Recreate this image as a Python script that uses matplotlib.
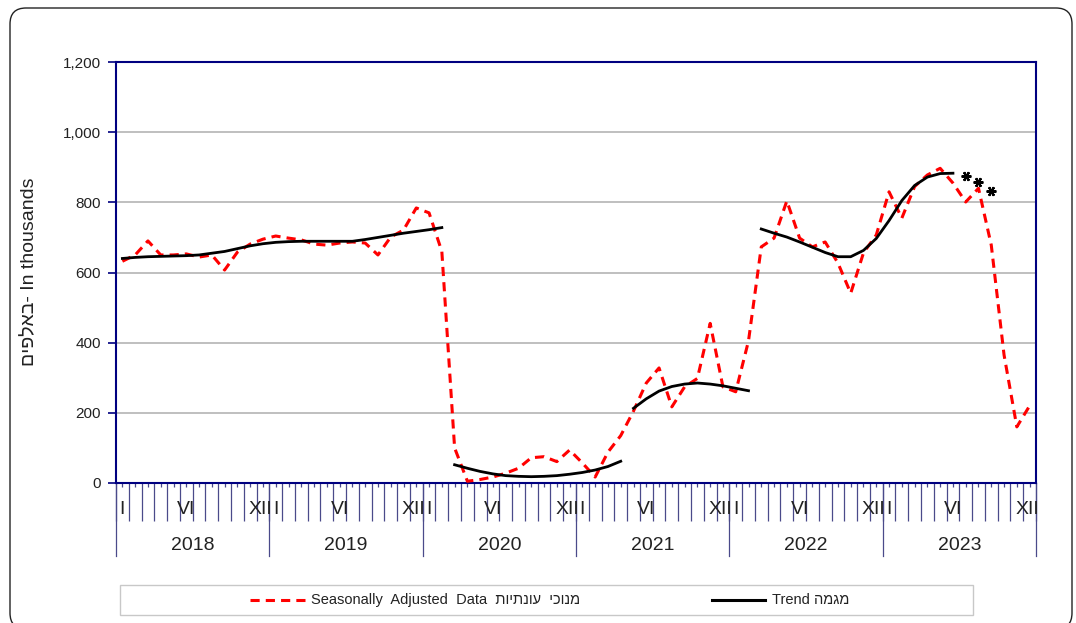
import numpy as np
import matplotlib
matplotlib.use('Agg')
import matplotlib.pyplot as plt
from matplotlib.ticker import FuncFormatter
from matplotlib.patches import FancyBboxPatch, Rectangle
from matplotlib.lines import Line2D
from matplotlib.transforms import IdentityTransform

plt.rcParams['font.family'] = ['Liberation Sans', 'DejaVu Sans']

years = ['2018', '2019', '2020', '2021', '2022', '2023']
month_labels = {0: 'I', 5: 'VI', 11: 'XII'}

# seasonally adjusted data, thousands, Jan 2018 - Dec 2023
sa_2018 = [632, 650, 690, 650, 650, 653, 644, 650, 607, 658, 681, 695]
sa_2019 = [704, 698, 693, 681, 678, 684, 687, 684, 650, 701, 721, 784]
sa_2020 = [770, 660, 100, 5, 10, 17, 28, 42, 72, 75, 61, 94]
sa_2021 = [57, 17, 88, 135, 205, 285, 328, 217, 274, 298, 455, 274]
sa_2022 = [260, 405, 673, 698, 804, 698, 673, 687, 627, 541, 656, 707]
sa_2023 = [830, 755, 845, 878, 897, 855, 801, 840, 678, 365, 160, 220]

# trend segments (start month index, values)
trend_1 = [640, 643, 645, 646, 647, 648, 650, 655, 660, 668, 676, 682,
           686, 688, 689, 689, 689, 689, 689, 694, 700, 706, 712, 717,
           722, 728]
trend_2 = [52, 42, 33, 26, 21, 19, 18, 19, 21, 25, 30, 37, 47, 62]
trend_3 = [213, 240, 262, 275, 282, 285, 282, 277, 270, 263]
trend_4 = [724, 712, 701, 687, 672, 657, 645, 645, 663, 697, 748, 805,
           848, 872, 882, 883]
trend_segments = [(0, trend_1), (26, trend_2), (40, trend_3), (50, trend_4)]

# provisional trend estimates (stars)
trend_prov_start = 66
trend_prov = [875, 857, 832]

sa = sa_2018 + sa_2019 + sa_2020 + sa_2021 + sa_2022 + sa_2023
n = len(sa)
xm = np.arange(n) + 0.5

W, H = 1076, 623
fig = plt.figure(figsize=(W / 100, H / 100), dpi=100)

# outer rounded frame
frame = FancyBboxPatch((10, -6), 1062, 621, boxstyle='round,pad=0,rounding_size=16',
                       transform=IdentityTransform(), fill=False, ec='#222222', lw=1.0)
fig.add_artist(frame)

ax = fig.add_axes([116 / W, 1 - 483 / H, 920 / W, 421 / H])
navy = '#000080'
tickc = '#4a4a8a'

ax.plot(xm, sa, color='#ff0000', lw=2.2, dashes=(3, 2), zorder=3)
for start, vals in trend_segments:
    ax.plot(xm[start:start + len(vals)], vals, color='black', lw=2.0, zorder=4)
ax.plot(xm[trend_prov_start:trend_prov_start + len(trend_prov)], trend_prov,
        ls='none', marker=(6, 2, 90), ms=7, mew=1.6, color='black', zorder=5)

ax.set_xlim(0, n)
ax.set_ylim(0, 1200)
ax.set_yticks(range(0, 1201, 200))
ax.yaxis.set_major_formatter(FuncFormatter(lambda v, p: f'{int(v):,}'))
ax.yaxis.grid(True, color='#b4b4b4', lw=1.2)
ax.set_axisbelow(True)
for s in ax.spines.values():
    s.set_color(navy)
    s.set_linewidth(1.5)
ax.tick_params(axis='y', direction='out', length=6, width=1.2, color=navy,
               labelsize=11, pad=5, labelcolor='#222222')

ax.set_xticks(np.arange(0, n + 1))
ax.set_xticks(xm, minor=True)
ax.tick_params(axis='x', which='major', direction='out', length=27, width=0.9,
               color=tickc, labelbottom=False)
ax.tick_params(axis='x', which='minor', direction='out', length=3, width=0.9,
               color=tickc, labelbottom=False)

tr = ax.get_xaxis_transform()
for k in range(len(years) + 1):
    ax.plot([12 * k, 12 * k], [0, -(556 - 483) / 421], transform=tr,
            color=tickc, lw=0.9, clip_on=False)
label_shift = {0: 0.5, 5: 0.5, 11: 0.3}
for k, y in enumerate(years):
    for m, lab in month_labels.items():
        ax.text(12 * k + m + label_shift[m], -(509 - 483) / 421, lab, transform=tr,
                ha='center', va='center', fontsize=14, color='#222222')
    ax.text(12 * k + 6, -(545 - 483) / 421, y, transform=tr,
            ha='center', va='center', fontsize=14, color='#222222')

fig.text(30 / W, 1 - 272 / H, 'םיפלאב- In thousands', rotation=90,
         ha='center', va='center', fontsize=14, color='#222222')

# legend box
legfont = ['Liberation Sans', 'DejaVu Sans']
fig.add_artist(Rectangle((120, H - 615), 853, 30, transform=IdentityTransform(),
                         fill=False, ec='#c8c8c8', lw=1.0))
ly = H - 600
fig.add_artist(Line2D([250, 305], [ly, ly], transform=IdentityTransform(),
                      color='#ff0000', lw=2.2, dashes=(3, 2)))
fig.text(311 / W, ly / H, 'Seasonally  Adjusted  Data  תויתנוע  יכונמ',
         ha='left', va='center', fontsize=10.5, family=legfont, color='#222222')
fig.add_artist(Line2D([712, 765], [ly, ly], transform=IdentityTransform(),
                      color='black', lw=2.2))
fig.text(772 / W, ly / H, 'Trend המגמ', ha='left', va='center', fontsize=10.5,
         family=legfont, color='#222222')

fig.savefig('out.png', dpi=100)
